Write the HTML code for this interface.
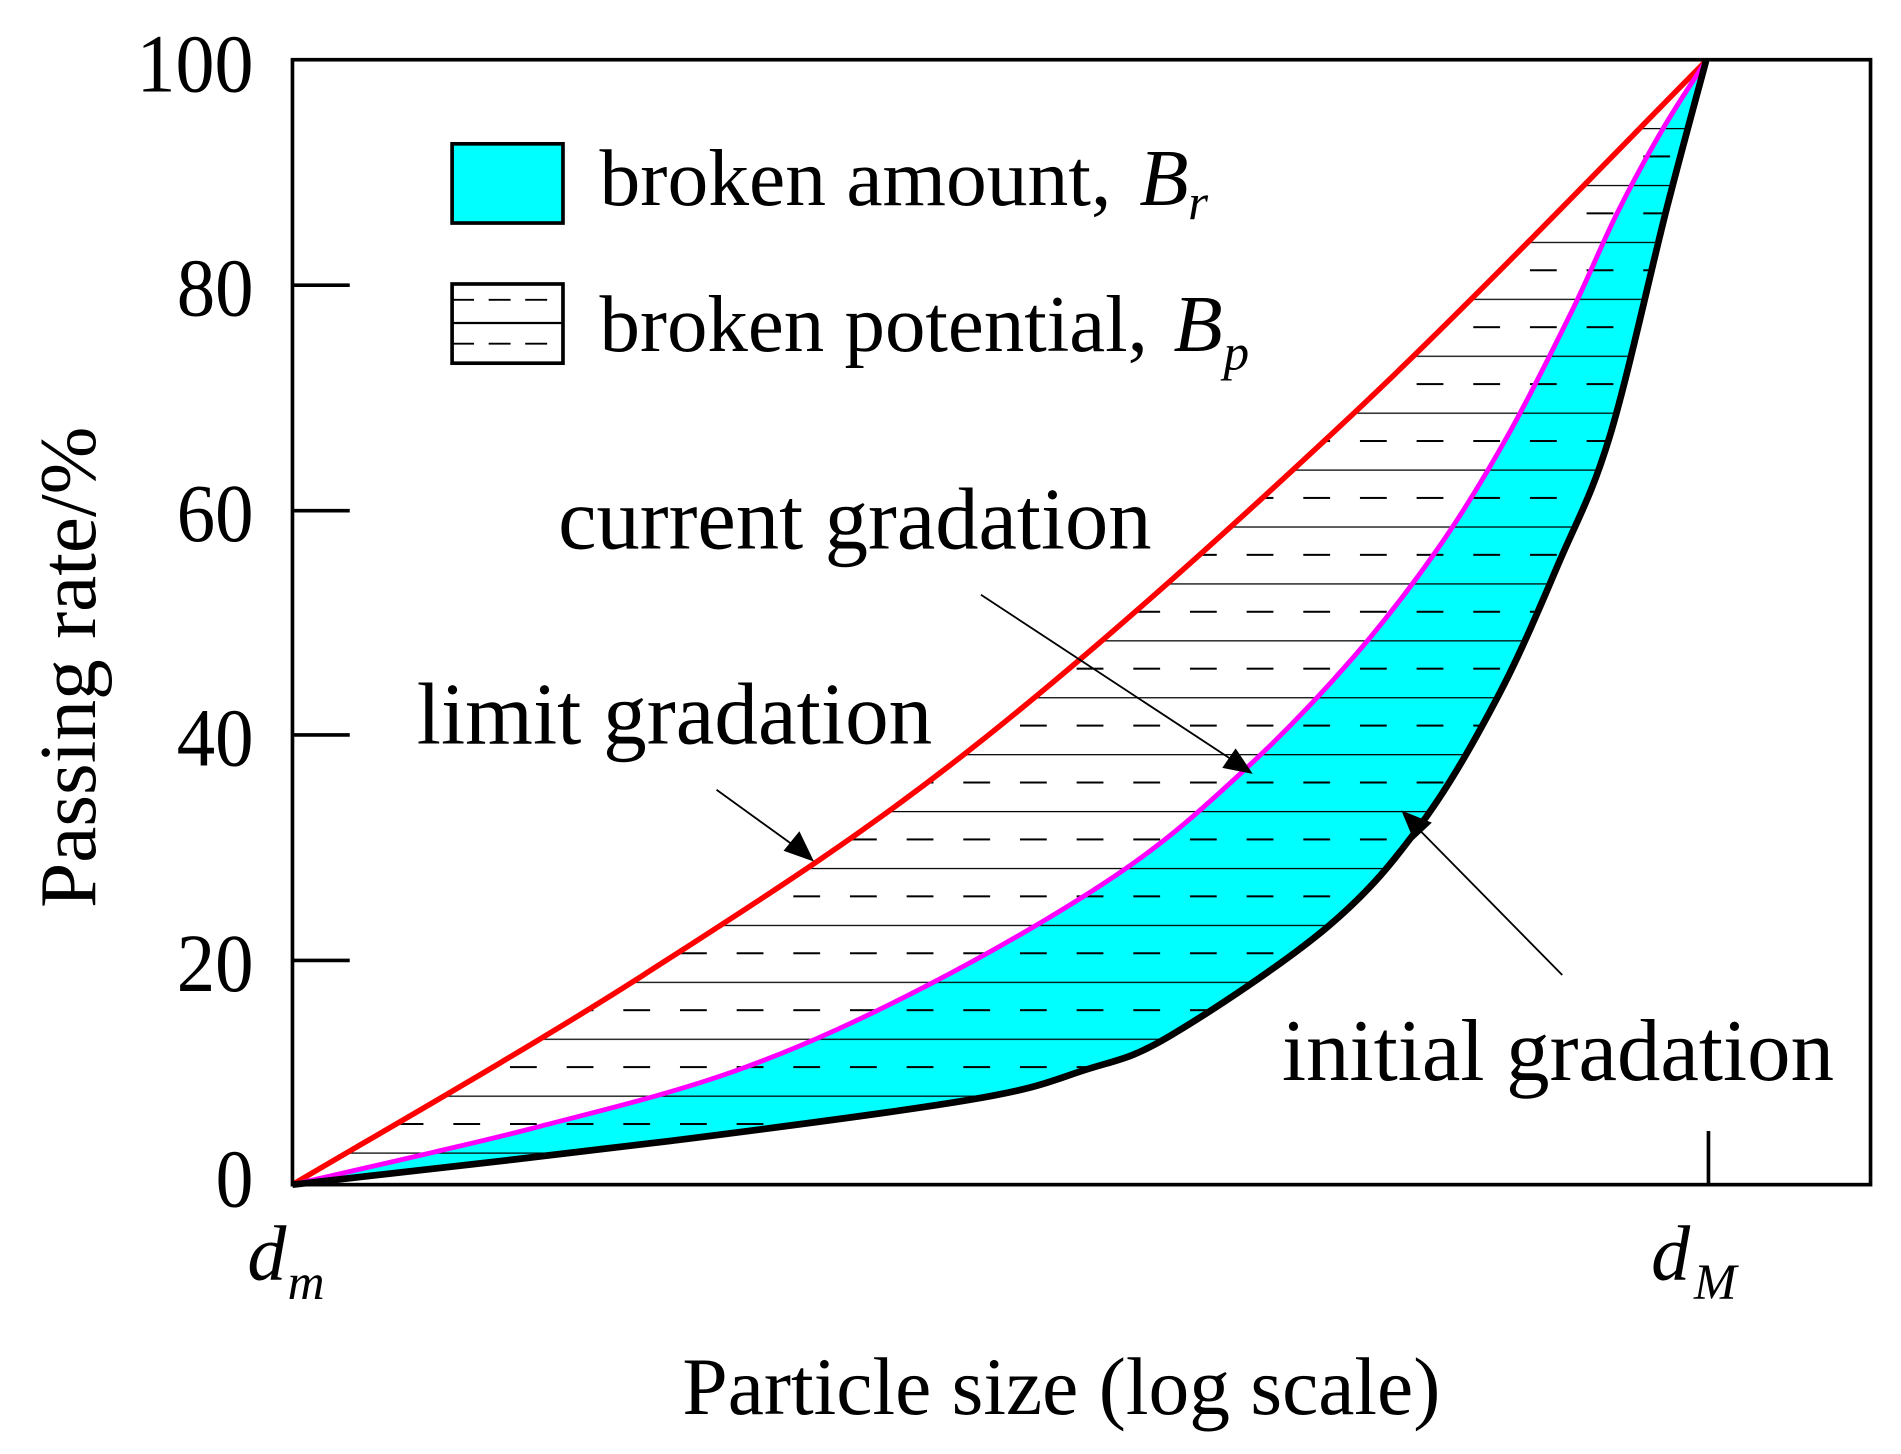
<!DOCTYPE html>
<html><head><meta charset="utf-8"><style>html,body{margin:0;padding:0;background:#fff;}svg{display:block}</style></head>
<body>
<svg width="1901" height="1454" viewBox="0 0 1560 1193" preserveAspectRatio="none" xmlns="http://www.w3.org/2000/svg" font-family="'Liberation Serif', serif">
<defs>
<clipPath id="hc"><path id="hcp" d=""/></clipPath>
<clipPath id="lc"><rect x="371" y="233" width="91" height="65"/></clipPath>
<pattern id="hp" patternUnits="userSpaceOnUse" x="0" y="11.6" width="46.5" height="46.7">
<line x1="0" y1="0" x2="46.5" y2="0" stroke="#000" stroke-width="2"/>
<line x1="0" y1="23.35" x2="22" y2="23.35" stroke="#000" stroke-width="1.7"/>
</pattern>
</defs>
<path id="cy" d="" fill="#00ffff"/>
<rect x="240" y="40" width="1300" height="940" fill="url(#hp)" clip-path="url(#hc)"/>
<path id="red" d="" fill="none" stroke="#ff0000" stroke-width="4.5"/>
<path id="mag" d="" fill="none" stroke="#ff00ff" stroke-width="4"/>
<path id="blk" d="" fill="none" stroke="#000" stroke-width="5.5"/>
<rect x="240" y="49" width="1295" height="923" fill="none" stroke="#000" stroke-width="3"/>
<g stroke="#000" stroke-width="3">
<line x1="240" y1="234" x2="287" y2="234"/>
<line x1="240" y1="419" x2="287" y2="419"/>
<line x1="240" y1="603" x2="287" y2="603"/>
<line x1="240" y1="788" x2="287" y2="788"/>
<line x1="1402" y1="928" x2="1402" y2="972"/>
</g>
<g font-size="68" fill="#000">
<text x="112" y="75" textLength="96" lengthAdjust="spacingAndGlyphs">100</text>
<text x="145" y="259" textLength="63" lengthAdjust="spacingAndGlyphs">80</text>
<text x="145" y="444" textLength="63" lengthAdjust="spacingAndGlyphs">60</text>
<text x="145" y="628" textLength="63" lengthAdjust="spacingAndGlyphs">40</text>
<text x="145" y="813" textLength="63" lengthAdjust="spacingAndGlyphs">20</text>
<text x="177" y="990" textLength="31" lengthAdjust="spacingAndGlyphs">0</text>
</g>
<rect x="371" y="118" width="91" height="65" fill="#00ffff" stroke="#000" stroke-width="3"/>
<g clip-path="url(#lc)" stroke="#000">
<line x1="371" y1="246" x2="462" y2="246" stroke-width="1.5" stroke-dasharray="18,12"/>
<line x1="371" y1="265" x2="462" y2="265" stroke-width="1.8"/>
<line x1="371" y1="282" x2="462" y2="282" stroke-width="1.5" stroke-dasharray="18,12"/>
</g>
<rect x="371" y="233" width="91" height="65" fill="none" stroke="#000" stroke-width="3"/>
<g font-size="66" fill="#000">
<text x="492" y="168" textLength="420" lengthAdjust="spacingAndGlyphs">broken amount,</text>
<text x="935" y="168" font-style="italic">B</text><text x="975" y="180" font-size="42" font-style="italic">r</text>
<text x="492" y="288" textLength="450" lengthAdjust="spacingAndGlyphs">broken potential,</text>
<text x="963" y="288" font-style="italic">B</text><text x="1004" y="303" font-size="42" font-style="italic">p</text>
</g>
<g font-size="72" fill="#000">
<text x="458" y="450" textLength="487" lengthAdjust="spacingAndGlyphs">current gradation</text>
<text x="342" y="610" textLength="423" lengthAdjust="spacingAndGlyphs">limit gradation</text>
<text x="1052" y="886" textLength="453" lengthAdjust="spacingAndGlyphs">initial gradation</text>
</g>
<g stroke="#000" stroke-width="1.5" fill="none">
<line x1="588" y1="648" x2="660" y2="700"/>
<line x1="805" y1="488" x2="1018" y2="628"/>
<line x1="1282" y1="800" x2="1158" y2="674"/>
</g>
<polygon points="668,707 643,698 656,682" fill="#000"/>
<polygon points="1028,635 1003,630 1014,614" fill="#000"/>
<polygon points="1150,665 1175,675 1160,689" fill="#000"/>
<text x="203" y="1050" font-size="64" font-style="italic">d</text><text x="236" y="1066" font-size="42" font-style="italic">m</text>
<text x="1355" y="1050" font-size="64" font-style="italic">d</text><text x="1390" y="1066" font-size="42" font-style="italic">M</text>
<text x="560" y="1160" font-size="67" textLength="622" lengthAdjust="spacingAndGlyphs">Particle size (log scale)</text>
<text transform="translate(78,745) rotate(-90)" font-size="66" textLength="395" lengthAdjust="spacingAndGlyphs">Passing rate/%</text>
</svg>
<script>
function cr(p){var d="M"+p[0][0]+","+p[0][1];for(var i=0;i<p.length-1;i++){var a=p[i-1]||p[i],b=p[i],c=p[i+1],e=p[i+2]||c;d+=" C"+(b[0]+(c[0]-a[0])/6).toFixed(1)+","+(b[1]+(c[1]-a[1])/6).toFixed(1)+" "+(c[0]-(e[0]-b[0])/6).toFixed(1)+","+(c[1]-(e[1]-b[1])/6).toFixed(1)+" "+c[0]+","+c[1];}return d;}
var R=[[240,972],[528,800],[800,612],[1110,340],[1400,50]];
var M=[[240,972],[436,926],[608,877],[764,807],[919,716],[1022,631],[1110,540],[1180,450],[1237,358],[1290,255],[1327,175],[1365,105],[1400,50]];
var B=[[240,972],[551,936],[798,902],[890,878],[960,850],[1090,760],[1167,675],[1230,570],[1280,460],[1321,358],[1368,170],[1400,50]];
function rev(p){return p.slice().reverse();}
function body(p){return cr(p).replace(/^M[^C]*/,"");}
document.getElementById("red").setAttribute("d",cr(R));
document.getElementById("mag").setAttribute("d",cr(M));
document.getElementById("blk").setAttribute("d",cr(B));
document.getElementById("cy").setAttribute("d",cr(M)+" L1400,50"+body(rev(B))+" Z");
document.getElementById("hcp").setAttribute("d",cr(R)+body(rev(B))+" Z");
</script>
</body></html>
